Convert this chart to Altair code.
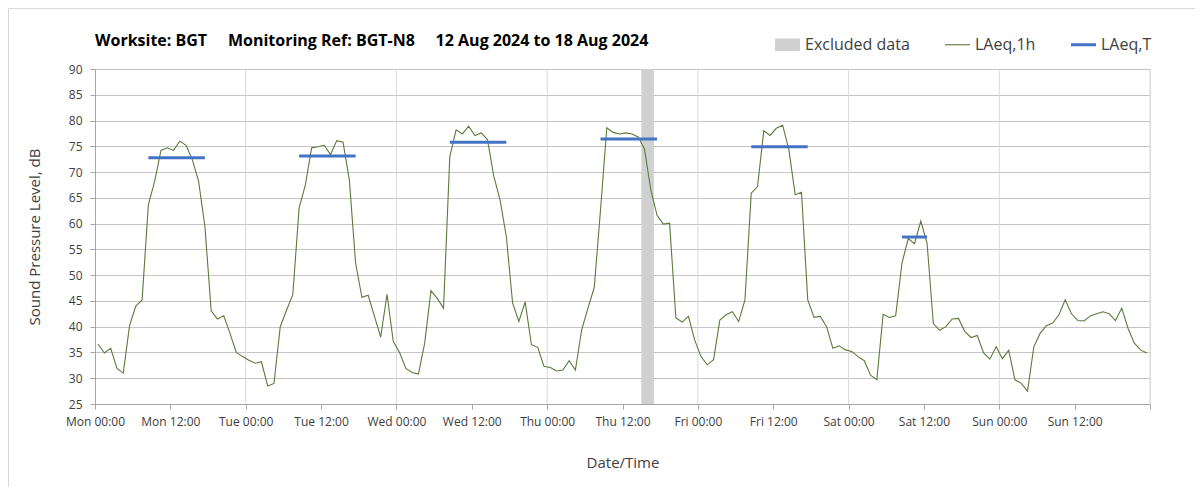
import altair as alt
import pandas as pd

# ---------------- data ----------------
day_names = ["Mon", "Tue", "Wed", "Thu", "Fri", "Sat", "Sun"]

# hourly LAeq,1h values, Mon 00:00 .. Sun 23:00 (plotted at mid-hour)
laeq_1h = [
    36.6, 34.9, 35.8, 31.9, 31.0, 40.2, 44.0, 45.2, 63.7, 68.2, 74.2, 74.7,
    74.2, 76.0, 75.2, 72.4, 68.2, 59.5, 43.1, 41.5, 42.1, 38.7, 35.0, 34.2,
    33.5, 32.9, 33.2, 28.5, 29.0, 40.0, 43.2, 46.2, 63.0, 67.5, 74.7, 74.9,
    75.2, 73.4, 76.1, 75.8, 68.5, 52.3, 45.7, 46.1, 42.0, 38.0, 46.3, 37.1,
    35.0, 31.9, 31.1, 30.8, 36.8, 47.0, 45.5, 43.6, 73.0, 78.2, 77.4, 78.9,
    77.1, 77.6, 76.3, 69.2, 64.6, 57.5, 44.6, 41.0, 44.8, 36.5, 36.0, 32.3,
    32.1, 31.4, 31.6, 33.4, 31.6, 39.4, 43.6, 47.6, 62.7, 78.6, 77.7, 77.4,
    77.6, 77.4, 76.8, 74.5, 66.6, 61.6, 59.9, 60.1, 41.7, 40.9, 42.0, 37.4,
    34.2, 32.6, 33.6, 41.3, 42.3, 42.9, 41.0, 45.2, 65.9, 67.2, 78.0, 77.1,
    78.5, 79.1, 74.3, 65.6, 66.1, 45.2, 41.8, 42.0, 40.0, 35.8, 36.3, 35.5,
    35.2, 34.2, 33.4, 30.6, 29.7, 42.4, 41.8, 42.1, 52.3, 57.1, 56.1, 60.5,
    56.2, 40.6, 39.3, 40.0, 41.5, 41.6, 39.1, 37.9, 38.3, 34.9, 33.7, 36.1,
    33.8, 35.4, 29.7, 29.0, 27.5, 36.1, 38.7, 40.2, 40.7, 42.3, 45.2, 42.5,
    41.2, 41.1, 42.1, 42.5, 42.9, 42.5, 41.2, 43.6, 39.7, 36.8, 35.5, 34.9,
]

# LAeq,T daytime segments (start hour, end hour, level)
laeqT_start = [8.5, 32.5, 56.5, 80.5, 104.5, 128.5]
laeqT_end = [17.5, 41.5, 65.5, 89.5, 113.5, 132.5]
laeqT_value = [72.8, 73.1, 75.8, 76.4, 74.9, 57.4]

# excluded data period (hours from Mon 00:00)
excluded_start = [87]
excluded_end = [89]

day_bounds = [24, 48, 72, 96, 120, 144, 168]
x_ticks = list(range(0, 169, 12))
y_ticks = list(range(25, 91, 5))

legend_series = ["Excluded data", "LAeq,1h", "LAeq,T"]
legend_colors = ["#d0d0d0", "#5b7b3a", "#4472c4"]
legend_shapes = [
    "M-1,-0.5L1,-0.5L1,0.5L-1,0.5Z",
    "M-1,-0.045L1,-0.045L1,0.045L-1,0.045Z",
    "M-1,-0.12L1,-0.12L1,0.12L-1,0.12Z",
]

FONT = "Open Sans"
W, H = 1055, 335

df_line = pd.DataFrame({"hour": [h + 0.5 for h in range(len(laeq_1h))], "level": laeq_1h})
df_T = pd.DataFrame({"start": laeqT_start, "end": laeqT_end, "level": laeqT_value})
df_excl = pd.DataFrame({"start": excluded_start, "end": excluded_end})
df_days = pd.DataFrame({"hour": day_bounds})
df_leg = pd.DataFrame({"series": legend_series})

day_arr = "[" + ",".join("'%s'" % d for d in day_names) + "]"
label_expr = (
    "datum.value >= 168 ? '' : " + day_arr +
    "[floor(datum.value / 24)] + (datum.value % 24 == 0 ? ' 00:00' : ' 12:00')"
)

x_scale = alt.Scale(domain=[0, 168], nice=False, zero=False)
y_scale = alt.Scale(domain=[25, 90], nice=False, zero=False)

x_axis = alt.Axis(
    values=x_ticks, labelExpr=label_expr, grid=False, title="Date/Time",
    tickSize=5, tickColor="#a6a6a6", domainColor="#a6a6a6",
    labelFont=FONT, labelFontSize=12, labelColor="#404040", labelPadding=7,
    labelFlush=False, labelOverlap=False,
    titleFont=FONT, titleFontSize=15, titleFontWeight="normal", titleColor="#404040",
    titlePadding=28,
)
y_axis = alt.Axis(
    values=y_ticks, grid=True, gridColor="#c4c4c4", title="Sound Pressure Level, dB",
    tickSize=5, tickColor="#a6a6a6", domainColor="#a6a6a6",
    labelFont=FONT, labelFontSize=12, labelColor="#404040", labelPadding=8,
    titleFont=FONT, titleFontSize=15, titleFontWeight="normal", titleColor="#404040",
    titlePadding=26,
)

frame = alt.Chart(pd.DataFrame({"a": [0]})).mark_rect(
    fillOpacity=0, stroke="#d9d9d9", strokeWidth=1
).encode(
    x=alt.value(-86.5), x2=alt.value(1200), y=alt.value(-60.5), y2=alt.value(600)
)

vgrid = alt.Chart(df_days).mark_rule(color="#d9d9d9", strokeWidth=1).encode(
    x=alt.X("hour:Q", scale=x_scale, axis=x_axis),
    y=alt.datum(25, scale=y_scale, axis=y_axis),
    y2=alt.datum(90),
)

excl = alt.Chart(df_excl).mark_rect(color="#d0d0d0").encode(
    x=alt.X("start:Q", scale=x_scale, axis=x_axis),
    x2="end:Q",
    y=alt.datum(90, scale=y_scale, axis=y_axis),
    y2=alt.datum(25),
)

line = alt.Chart(df_line).mark_line(color="#5b7b3a", strokeWidth=1.1).encode(
    x=alt.X("hour:Q", scale=x_scale, axis=x_axis),
    y=alt.Y("level:Q", scale=y_scale, axis=y_axis),
)

rules = alt.Chart(df_T).mark_rule(color="#4472c4", strokeWidth=3).encode(
    x=alt.X("start:Q", scale=x_scale, axis=x_axis),
    x2="end:Q",
    y=alt.Y("level:Q", scale=y_scale, axis=y_axis),
)

leg = alt.Legend(
    title=None, orient="none", legendX=680, legendY=-37, direction="horizontal",
    symbolSize=625, symbolStrokeWidth=0, symbolOpacity=1,
    labelFont=FONT, labelFontSize=16, labelColor="#404040", labelOffset=5,
    columnPadding=35, padding=0,
)

legend_layer = alt.Chart(df_leg).mark_point(filled=True, opacity=0).encode(
    color=alt.Color(
        "series:N",
        scale=alt.Scale(domain=legend_series, range=legend_colors),
        legend=leg,
    ),
    shape=alt.Shape(
        "series:N",
        scale=alt.Scale(domain=legend_series, range=legend_shapes),
        legend=leg,
    ),
)

title_text = (
    "Worksite: BGT\u00a0\u00a0\u00a0\u00a0\u00a0Monitoring Ref: BGT-N8"
    "\u00a0\u00a0\u00a0\u00a0\u00a012 Aug 2024 to 18 Aug 2024"
)

chart = alt.layer(frame, vgrid, excl, line, rules, legend_layer).properties(
    width=W, height=H,
    title=alt.TitleParams(
        text=title_text, anchor="start", frame="group", font=FONT, fontSize=16,
        fontWeight="bold", color="#000000", offset=-41,
    ),
    autosize=alt.AutoSizeParams(type="none"),
    padding={"left": 87, "top": 61, "right": 45, "bottom": 83},
).configure_view(stroke=None).configure(background="white")

chart.save("out.html", embed_options={"renderer": "svg", "actions": False})
